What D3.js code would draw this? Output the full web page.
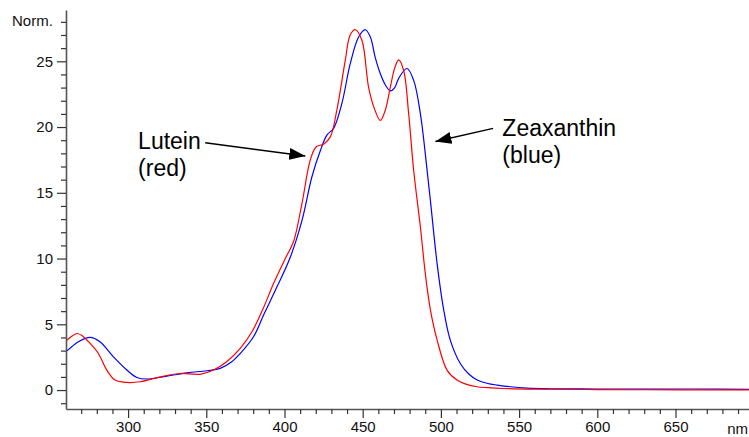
<!DOCTYPE html>
<html>
<head>
<meta charset="utf-8">
<script src="https://cdn.jsdelivr.net/npm/d3@7"></script>
<style>
  body { margin: 0; background: #fff; }
  svg { display: block; font-family: Arial, "Liberation Sans", sans-serif; }
</style>
</head>
<body>
<svg width="749" height="437"></svg>
<script>
// lutein (red) spectrum
var luteinNm = [260, 264, 267.6, 271, 275.7, 281, 286.4, 291.7, 299, 307.7, 318, 333, 346, 354.6, 363, 371.7, 379.2, 386, 393, 400.5, 405.8, 411.2, 416.5, 420.3, 425, 429.3, 433.5, 438.9, 442, 445.3, 449.5, 453.8, 457.5, 461.3, 464.5, 467.7, 470.5, 473, 476.2, 479.4, 482.6, 486.9, 490, 493.3, 497.6, 504, 510.3, 516, 523, 530, 540, 560, 600, 650, 700];
var luteinVal = [3.7, 4.1, 4.3, 4.1, 3.55, 2.78, 1.52, 0.76, 0.58, 0.63, 0.93, 1.26, 1.2, 1.52, 2.15, 3.17, 4.43, 6.1, 8.1, 10.0, 11.3, 14.2, 17.5, 18.5, 18.7, 19.25, 21.3, 25.1, 27.0, 27.4, 26.6, 23.0, 21.4, 20.5, 21.3, 23.05, 24.5, 25.1, 24.3, 21.0, 16.7, 12.4, 8.9, 6.1, 3.8, 1.5, 0.76, 0.45, 0.25, 0.18, 0.12, 0.07, 0.04, 0.02, 0.02];

// zeaxanthin (blue) spectrum
var zeaNm = [260, 264, 268.2, 275.7, 282, 290.6, 299.2, 305.6, 312, 324.8, 337.6, 350.4, 358.9, 366.3, 371.7, 380.2, 387, 395.2, 403.7, 411.2, 417.5, 422.9, 427.2, 431.4, 436.7, 442, 447.4, 451.7, 454.9, 458, 461.3, 464.5, 467.7, 470.5, 473, 478.3, 482.6, 486.9, 490, 493.3, 497.6, 501.8, 506, 512.5, 518, 523.2, 530, 536, 544.5, 555, 570, 600, 630, 660, 700];
var zeaVal = [2.9, 3.3, 3.67, 4.0, 3.67, 2.53, 1.52, 0.96, 0.84, 1.06, 1.31, 1.47, 1.65, 2.15, 2.78, 4.05, 5.8, 7.85, 10.1, 12.9, 16.2, 18.2, 19.4, 19.9, 21.8, 24.8, 26.85, 27.4, 26.85, 25.3, 24.05, 23.2, 22.75, 23.0, 23.7, 24.45, 23.55, 21.0, 18.0, 14.4, 9.6, 6.1, 3.8, 2.0, 1.2, 0.76, 0.5, 0.38, 0.25, 0.15, 0.1, 0.08, 0.07, 0.08, 0.05];

// axis ticks
var xLabelTicks = [300, 350, 400, 450, 500, 550, 600, 650];
var yLabelTicks = [0, 5, 10, 15, 20, 25];

var svg = d3.select("svg");

var x = d3.scaleLinear().domain([260.3, 697]).range([66, 749]);
var y = d3.scaleLinear().domain([-1.44, 28.9]).range([409, 10]);

// clip so the curves stay inside the axes
svg.append("clipPath").attr("id", "plot")
	.append("rect")
	.attr("x", x.range()[0]).attr("y", y.range()[1])
	.attr("width", x.range()[1] - x.range()[0])
	.attr("height", y.range()[0] - y.range()[1]);

var line = d3.line()
	.x(function(d) { return x(d[0]); })
	.y(function(d) { return y(d[1]); })
	.curve(d3.curveCatmullRom.alpha(0.5));

function pairs(xs, vs) {
	return xs.map(function(v, i) { return [v, vs[i]]; });
}

var g = svg.append("g").attr("clip-path", "url(#plot)");

g.append("path")
	.datum(pairs(zeaNm, zeaVal))
	.attr("d", line)
	.attr("fill", "none")
	.attr("stroke", "#0000ff")
	.attr("stroke-width", 1.2);

g.append("path")
	.datum(pairs(luteinNm, luteinVal))
	.attr("d", line)
	.attr("fill", "none")
	.attr("stroke", "#ff0000")
	.attr("stroke-width", 1.2);

// x axis: minor ticks every 10 nm, labels every 50
var xMinor = d3.range(270, 700, 10).filter(function(d) { return d % 50 != 0; });

var xAxis = svg.append("g").attr("transform", "translate(0," + y.range()[0] + ")");
xAxis.call(d3.axisBottom(x).tickValues(xLabelTicks).tickSize(9).tickPadding(3).tickSizeOuter(0));
xAxis.append("g").call(d3.axisBottom(x).tickValues(xMinor).tickSize(5).tickFormat("").tickSizeOuter(0))
	.select(".domain").remove();

// y axis: minor ticks every 1 unit
var yMinor = d3.range(-1, 29, 1).filter(function(d) { return d % 5 != 0; });

var yAxis = svg.append("g").attr("transform", "translate(" + x.range()[0] + ",0)");
yAxis.call(d3.axisLeft(y).tickValues(yLabelTicks).tickSize(9).tickPadding(4).tickSizeOuter(0));
yAxis.append("g").call(d3.axisLeft(y).tickValues(yMinor).tickSize(5).tickFormat("").tickSizeOuter(0))
	.select(".domain").remove();

svg.selectAll(".domain").attr("stroke", "#555").attr("stroke-width", 1.6);
svg.selectAll(".tick line").attr("stroke", "#333").attr("stroke-width", 1.2);
svg.selectAll(".tick text").attr("font-size", 15).attr("fill", "#111")
	.attr("font-family", "Arial, 'Liberation Sans', sans-serif");

// unit labels
svg.append("text").attr("x", 12).attr("y", 26)
	.attr("font-size", 15).attr("fill", "#111").text("Norm.");
svg.append("text").attr("x", 748).attr("y", 434)
	.attr("text-anchor", "end")
	.attr("font-size", 15).attr("fill", "#111").text("nm");

// annotations with arrows (in data units)
svg.append("defs").append("marker")
	.attr("id", "head")
	.attr("markerUnits", "userSpaceOnUse")
	.attr("viewBox", "0 0 16 12")
	.attr("refX", 16).attr("refY", 6)
	.attr("markerWidth", 16).attr("markerHeight", 12)
	.attr("orient", "auto")
	.append("path").attr("d", "M0,0L16,6L0,12Z").attr("fill", "#000");

var notes = [
	{ lines: ["Lutein", "(red)"], tx: 306.4, ty: 18.3, from: [349.3, 18.8], to: [413.3, 17.8] },
	{ lines: ["Zeaxanthin", "(blue)"], tx: 539.3, ty: 19.35, from: [533.4, 19.9], to: [496.5, 18.9] }
];

notes.forEach(function(n) {
	svg.append("line")
		.attr("x1", x(n.from[0])).attr("y1", y(n.from[1]))
		.attr("x2", x(n.to[0])).attr("y2", y(n.to[1]))
		.attr("stroke", "#000").attr("stroke-width", 1.5)
		.attr("marker-end", "url(#head)");
	var t = svg.append("text")
		.attr("x", x(n.tx)).attr("y", y(n.ty))
		.attr("font-size", 23).attr("fill", "#000");
	n.lines.forEach(function(s, i) {
		t.append("tspan").attr("x", x(n.tx)).attr("dy", i == 0 ? 0 : 27).text(s);
	});
});
</script>
</body>
</html>
